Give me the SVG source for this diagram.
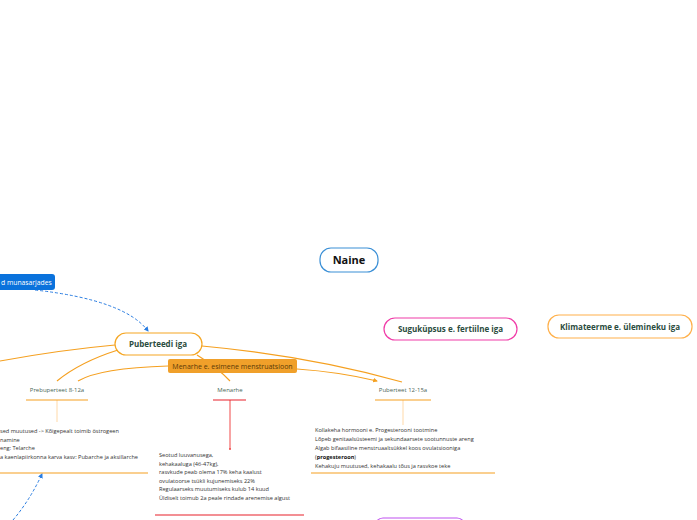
<svg xmlns="http://www.w3.org/2000/svg" width="697" height="520" viewBox="0 0 697 520">
<defs>
<style>
.t{font-family:"Open Sans","Noto Sans",sans-serif}
.main{font-size:11px;font-weight:bold;fill:#111}
.topic{font-size:8px;font-weight:bold;fill:#2b4c3e}
.sub{font-size:6px;fill:#4a6656}
.body{font-size:5.6px;fill:#333}
.ol{stroke:#f5a020;stroke-width:1.2;fill:none}
</style>
<marker id="ab" viewBox="0 0 10 10" refX="8" refY="5" markerWidth="5" markerHeight="5" orient="auto"><path d="M0,0 L10,5 L0,10 z" fill="#2a7de1"/></marker>
<marker id="ao" viewBox="0 0 10 10" refX="8" refY="5" markerWidth="4" markerHeight="4" orient="auto"><path d="M0,0 L10,5 L0,10 z" fill="#f5a020"/></marker>
</defs>
<rect width="697" height="520" fill="#fff"/>
<g id="connectors">
<path class="ol" d="M115,345 Q60,350 0,361"/>
<path class="ol" d="M118,350 Q80,362 57,381"/>
<path class="ol" d="M202,346 Q310,356 402,382"/>
<path class="ol" d="M197,355 Q218,368 230,381"/>
<path class="ol" d="M168,366 Q100,368 78,381"/>
<path class="ol" d="M297,369 Q340,372 377,381" marker-end="url(#ao)"/>
<path d="M35,290 Q125,300 148,331" stroke="#2a7de1" stroke-width="1" stroke-dasharray="3,2" fill="none" marker-end="url(#ab)"/>
<path d="M13,520 Q30,500 42,474" stroke="#2a7de1" stroke-width="1" stroke-dasharray="3,2" fill="none" marker-end="url(#ab)"/>
<line x1="57" y1="400" x2="57" y2="422" stroke="#ffd9a8" stroke-width="1"/>
<line x1="230" y1="400" x2="230" y2="449" stroke="#f04848" stroke-width="1"/>
<circle cx="230" cy="449" r="1" fill="#f04848"/>
<line x1="403" y1="400" x2="403" y2="425" stroke="#ffd9a8" stroke-width="1"/>
</g>
<g id="naine">
<rect x="320" y="248" width="58" height="24" rx="11" fill="#fff" stroke="#3a8fd6" stroke-width="1.2"/>
<text class="t main" x="349" y="264" text-anchor="middle">Naine</text>
</g>
<g id="munasarjades">
<rect x="-80" y="274" width="135" height="16" rx="3" fill="#0a72dc"/>
<text class="t" x="1" y="285" font-size="6.8" fill="#fff">d munasarjades</text>
</g>
<g id="puberteedi">
<rect x="115" y="333" width="87" height="22" rx="11" fill="#fff" stroke="#f5a623" stroke-width="1.2"/>
<text class="t topic" x="158" y="347" text-anchor="middle">Puberteedi iga</text>
</g>
<g id="suguküpsus">
<rect x="384" y="318" width="133" height="22" rx="11" fill="#fff" stroke="#f03ca8" stroke-width="1.2"/>
<text class="t topic" x="450.5" y="332" text-anchor="middle">Suguküpsus e. fertiilne iga</text>
</g>
<g id="klimateerme">
<rect x="548" y="315" width="144" height="23" rx="11" fill="#fff" stroke="#ffb04a" stroke-width="1.2"/>
<text class="t topic" x="620" y="329.5" text-anchor="middle">Klimateerme e. ülemineku iga</text>
</g>
<g id="menarhe-box">
<rect x="168" y="359" width="129" height="14" rx="2" fill="#f0a02a"/>
<text class="t" x="232.5" y="368.8" text-anchor="middle" font-size="7" fill="#5a3a08">Menarhe e. esimene menstruatsioon</text>
</g>
<g id="prebuperteet">
<text class="t sub" x="57" y="392" text-anchor="middle">Prebuperteet 8-12a</text>
<line x1="26" y1="400" x2="88" y2="400" stroke="#f5a020" stroke-width="1.2"/>
</g>
<g id="menarhe">
<text class="t sub" x="230" y="392" text-anchor="middle">Menarhe</text>
<line x1="213" y1="400" x2="246" y2="400" stroke="#e8202a" stroke-width="1.2"/>
</g>
<g id="puberteet">
<text class="t sub" x="403" y="392" text-anchor="middle" fill="#333">Puberteet 12-15a</text>
<line x1="375" y1="400" x2="431" y2="400" stroke="#f5a020" stroke-width="1.2"/>
</g>
<g id="prebuperteet-text">
<text class="t body" x="0" y="433">sed muutused -&gt; Kõigepealt toimib östrogeen</text>
<text class="t body" x="0" y="441.5">namine</text>
<text class="t body" x="0" y="450">eng: Telarche</text>
<text class="t body" x="0" y="458.5">a kaenlapiirkonna karva kasv: Pubarche ja aksillarche</text>
<line x1="0" y1="473" x2="148" y2="473" stroke="#f5a020" stroke-width="1.2"/>
</g>
<g id="menarhe-text">
<text class="t body" x="159" y="457">Seotud luuvanusega,</text>
<text class="t body" x="159" y="465.5">kehakaaluga (46-47kg),</text>
<text class="t body" x="159" y="474">rasvkude peab olema 17% keha kaalust</text>
<text class="t body" x="159" y="482.5">ovulatoorse tsükli kujunemiseks 22%</text>
<text class="t body" x="159" y="491">Regulaarseks muutumiseks kulub 14 kuud</text>
<text class="t body" x="159" y="499.5">Üldiselt toimub 2a peale rindade arenemise algust</text>
<line x1="155" y1="515" x2="304" y2="515" stroke="#e8202a" stroke-width="1.2"/>
</g>
<g id="puberteet-text">
<text class="t body" x="315" y="432">Kollakeha hormooni e. Progesterooni tootmine</text>
<text class="t body" x="315" y="441">Lõpeb genitaalsüsteemi ja sekundaarsete sootunnuste areng</text>
<text class="t body" x="315" y="450">Algab bifaasiline menstruaaltsükkel koos ovulatsiooniga</text>
<text class="t body" x="315" y="459">(<tspan font-weight="bold" fill="#111">progesteroon</tspan>)</text>
<text class="t body" x="315" y="468">Kehakuju muutused, kehakaalu tõus ja rasvkoe teke</text>
<line x1="311" y1="473" x2="495" y2="473" stroke="#f5a020" stroke-width="1.2"/>
</g>
<g id="purple-node">
<rect x="375" y="518" width="90" height="20" rx="8" fill="#fff" stroke="#c050f0" stroke-width="1.2"/>
</g>
</svg>
